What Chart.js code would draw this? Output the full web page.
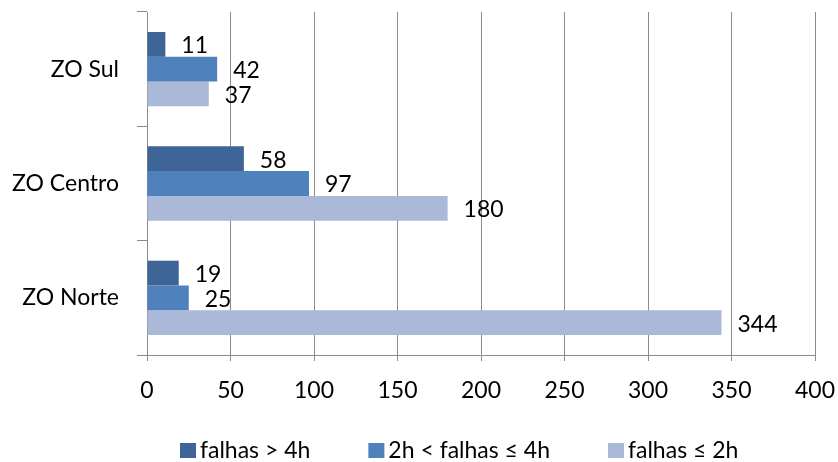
<!DOCTYPE html>
<html>
<head>
<meta charset="utf-8">
<script src="https://cdn.jsdelivr.net/npm/chart.js@4"></script>
<style>
    html, body { margin: 0; padding: 0; background: #fff; }
    #wrap { width: 838px; height: 462px; }
</style>
</head>
<body>
<div id="wrap"><canvas id="c" width="838" height="462"></canvas></div>
<script>
var categories = ['ZO Sul', 'ZO Centro', 'ZO Norte'];
var over4h = [11, 58, 19];
var between2and4h = [42, 97, 25];
var under2h = [37, 180, 344];
var xTicks = [0, 50, 100, 150, 200, 250, 300, 350, 400];

var FONT = 'Lato, "Open Sans", sans-serif';
var FONT_SIZE = 23;

// numbers to the right of each bar
var valueLabels = {
    id: 'valueLabels',
    afterDatasetsDraw: function (chart) {
        var ctx = chart.ctx;
        ctx.save();
        ctx.font = FONT_SIZE + 'px ' + FONT;
        ctx.fillStyle = '#000';
        ctx.textAlign = 'left';
        ctx.textBaseline = 'middle';
        chart.data.datasets.forEach(function (ds, i) {
            chart.getDatasetMeta(i).data.forEach(function (bar, j) {
                ctx.fillText(ds.data[j], bar.x + 16, bar.y + 1.5);
            });
        });
        ctx.restore();
    }
};

// Excel-style legend row at the bottom
var bottomLegend = {
    id: 'bottomLegend',
    afterDraw: function (chart) {
        var ctx = chart.ctx;
        var x = 180, boxTop = 443;
        ctx.save();
        ctx.font = FONT_SIZE + 'px ' + FONT;
        ctx.textAlign = 'left';
        ctx.textBaseline = 'alphabetic';
        chart.data.datasets.forEach(function (ds) {
            ctx.fillStyle = ds.backgroundColor;
            ctx.fillRect(x, boxTop, 16, 15);
            ctx.fillStyle = '#000';
            ctx.fillText(ds.label, x + 20, boxTop + 15);
            x += 20 + ctx.measureText(ds.label).width + 58;
        });
        ctx.restore();
    }
};

new Chart(document.getElementById('c'), {
    type: 'bar',
    data: {
        labels: categories,
        datasets: [
            { label: 'falhas > 4h', data: over4h, backgroundColor: '#3F6598' },
            { label: '2h < falhas \u2264 4h', data: between2and4h, backgroundColor: '#4F81BD' },
            { label: 'falhas \u2264 2h', data: under2h, backgroundColor: '#AAB9D8' }
        ]
    },
    options: {
        indexAxis: 'y',
        responsive: false,
        animation: false,
        categoryPercentage: 0.65,
        barPercentage: 1.0,
        layout: { padding: { top: 12, right: 23, left: 0, bottom: 37 } },
        plugins: {
            legend: { display: false },
            tooltip: { enabled: false }
        },
        scales: {
            x: {
                min: 0,
                max: 400,
                afterBuildTicks: function (scale) {
                    scale.ticks = xTicks.map(function (v) { return { value: v }; });
                },
                afterFit: function (scale) {
                    scale.height = 70;
                    scale.paddingLeft = 0;
                    scale.paddingRight = 0;
                },
                ticks: { color: '#000', font: { family: FONT, size: FONT_SIZE }, padding: 16 },
                grid: { color: '#8c8c8c', lineWidth: 1, tickLength: 6 },
                border: { color: '#8c8c8c' }
            },
            y: {
                afterFit: function (scale) {
                    scale.width = 147;
                    scale.paddingTop = 0;
                    scale.paddingBottom = 0;
                },
                ticks: { color: '#000', font: { family: FONT, size: FONT_SIZE }, padding: 18 },
                grid: { offset: true, drawOnChartArea: false, color: '#8c8c8c', tickLength: 10 },
                border: { color: '#8c8c8c' }
            }
        }
    },
    plugins: [valueLabels, bottomLegend]
});
</script>
</body>
</html>
